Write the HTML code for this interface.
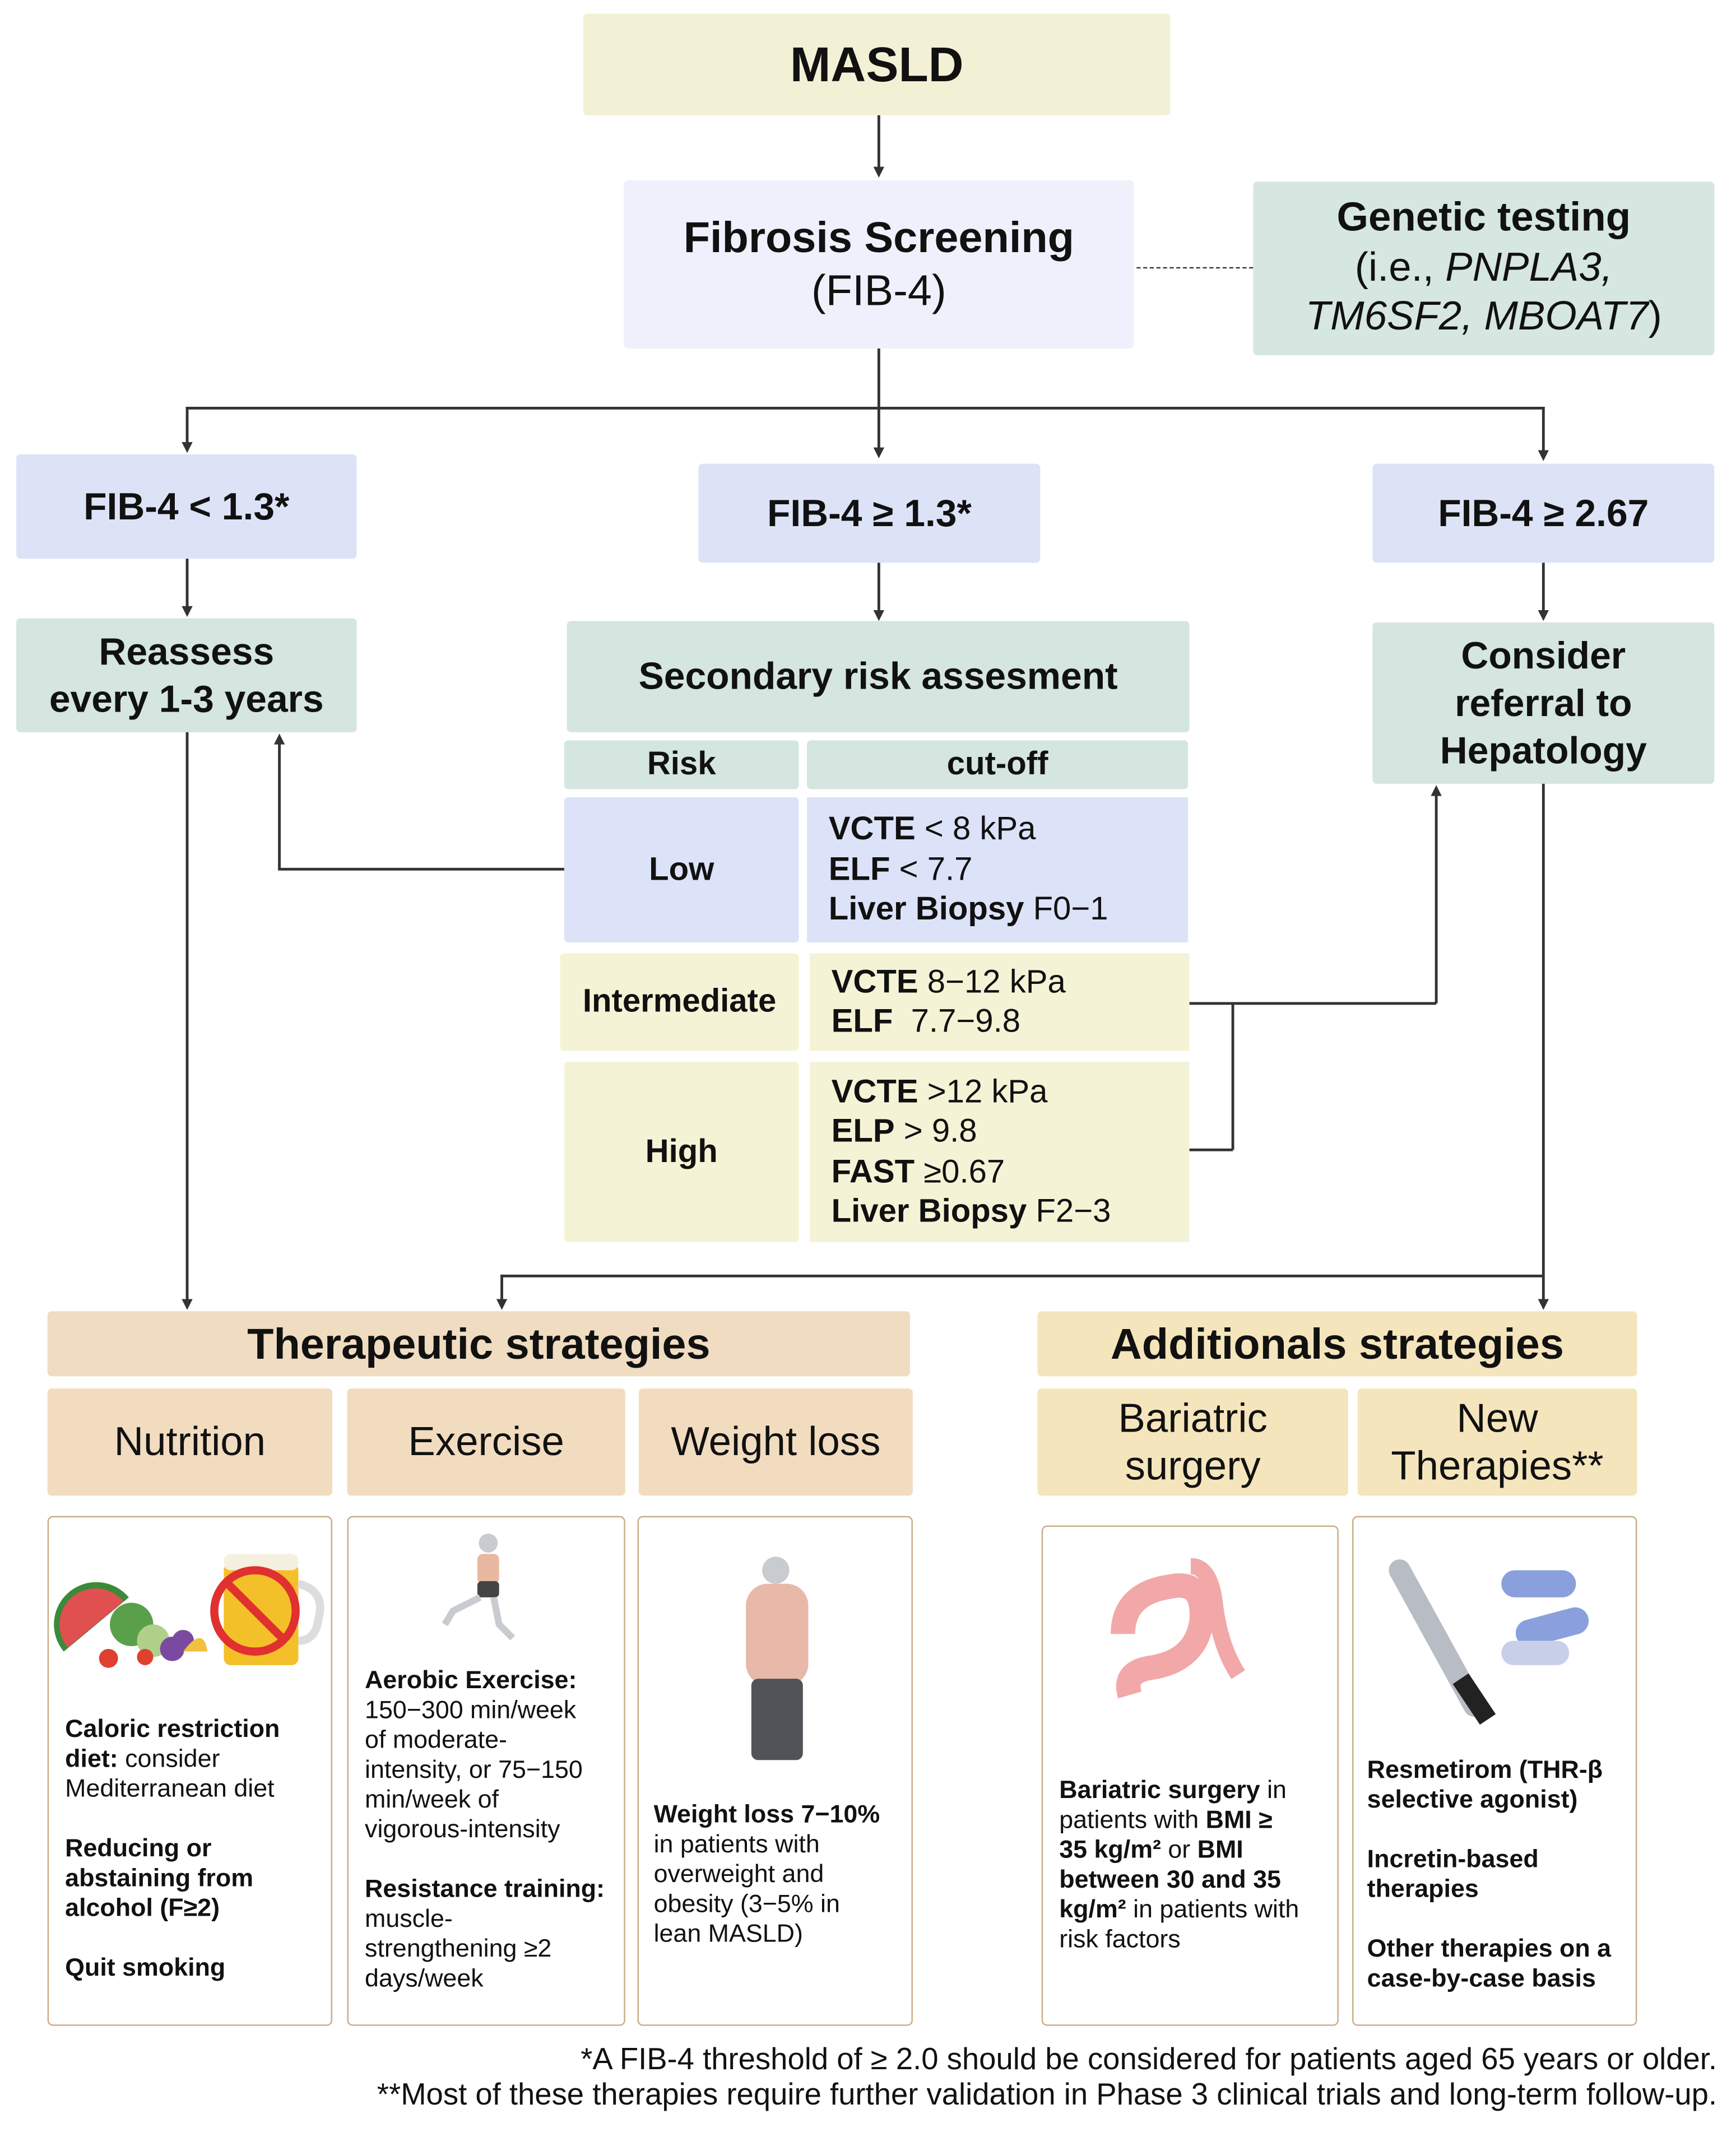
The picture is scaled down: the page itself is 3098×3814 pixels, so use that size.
<!DOCTYPE html>
<html><head><meta charset="utf-8"><style>
html,body{margin:0;padding:0;background:#fff;}
body{width:3098px;height:3814px;overflow:hidden;}
#c{position:absolute;left:0;top:0;width:1280px;height:1576px;transform:scale(2.4203,2.4201);transform-origin:0 0;font-family:"Liberation Sans","DejaVu Sans",sans-serif;color:#111;}
.b{position:absolute;display:flex;flex-direction:column;align-items:center;justify-content:center;text-align:center;box-sizing:border-box;border-radius:3px;}
.bold{font-weight:bold;}
.l{position:absolute;background:#333;}
.ar{position:absolute;width:0;height:0;border-left:4px solid transparent;border-right:4px solid transparent;border-top:8px solid #333;}
.aru{position:absolute;width:0;height:0;border-left:4px solid transparent;border-right:4px solid transparent;border-bottom:8px solid #333;}
.cut{position:absolute;box-sizing:border-box;padding-left:16px;font-size:24px;line-height:29.5px;display:flex;flex-direction:column;justify-content:center;}
.box{position:absolute;box-sizing:border-box;border:1.5px solid #c9ab84;border-radius:4px;background:#fff;}
.t{position:absolute;font-size:18.5px;line-height:22px;}
.foot{position:absolute;right:14px;font-size:22.5px;text-align:right;white-space:nowrap;}
</style></head><body><div id="c">

<div class="b bold" style="left:430px;top:10px;width:433px;height:75px;background:#f3f1d5;font-size:36px;">MASLD</div>
<div class="l" style="left:647px;top:85px;width:1.5px;height:40px;"></div><div class="ar" style="left:644px;top:123px;"></div>

<div class="b" style="left:460px;top:133px;width:376px;height:124px;background:#eef1fb;font-size:32px;line-height:39px;"><span class="bold">Fibrosis Screening</span><span>(FIB-4)</span></div>
<div style="position:absolute;left:838px;top:197px;width:86px;border-top:1.5px dashed #333;"></div>
<div class="b" style="left:924px;top:134px;width:340px;height:128px;background:#d6e6e0;font-size:30px;line-height:36.5px;"><span class="bold">Genetic testing</span><span>(i.e., <i>PNPLA3,</i></span><span><i>TM6SF2, MBOAT7</i>)</span></div>

<div class="l" style="left:647px;top:257px;width:1.5px;height:75px;"></div>
<div class="l" style="left:137px;top:300px;width:1002px;height:1.5px;"></div>
<div class="l" style="left:137px;top:300px;width:1.5px;height:28px;"></div><div class="ar" style="left:134px;top:326px;"></div>
<div class="ar" style="left:644px;top:330px;"></div>
<div class="l" style="left:1137px;top:300px;width:1.5px;height:32px;"></div><div class="ar" style="left:1134px;top:332px;"></div>

<div class="b bold" style="left:12px;top:335px;width:251px;height:77px;background:#dde3f7;font-size:28px;">FIB-4 &lt; 1.3*</div>
<div class="b bold" style="left:515px;top:342px;width:252px;height:73px;background:#dde3f7;font-size:28px;">FIB-4 ≥ 1.3*</div>
<div class="b bold" style="left:1012px;top:342px;width:252px;height:73px;background:#dde3f7;font-size:28px;">FIB-4 ≥ 2.67</div>

<div class="l" style="left:137px;top:412px;width:1.5px;height:36px;"></div><div class="ar" style="left:134px;top:447px;"></div>
<div class="l" style="left:647px;top:415px;width:1.5px;height:36px;"></div><div class="ar" style="left:644px;top:450px;"></div>
<div class="l" style="left:1137px;top:415px;width:1.5px;height:36px;"></div><div class="ar" style="left:1134px;top:450px;"></div>

<div class="b bold" style="left:12px;top:456px;width:251px;height:84px;background:#d5e5df;font-size:28px;line-height:35px;"><span>Reassess</span><span>every 1-3 years</span></div>
<div class="b bold" style="left:418px;top:458px;width:459px;height:82px;background:#d5e5df;font-size:28px;">Secondary risk assesment</div>
<div class="b bold" style="left:1012px;top:459px;width:252px;height:119px;background:#d5e5df;font-size:28px;line-height:35px;"><span>Consider</span><span>referral to</span><span>Hepatology</span></div>

<div class="b bold" style="left:416px;top:546px;width:173px;height:36px;background:#d5e5df;font-size:24px;">Risk</div>
<div class="b bold" style="left:595px;top:546px;width:281px;height:36px;background:#d5e5df;font-size:24px;">cut-off</div>

<div class="b bold" style="left:416px;top:588px;width:173px;height:107px;background:#dce3f8;font-size:24px;">Low</div>
<div class="cut" style="left:595px;top:588px;width:281px;height:107px;background:#dce3f8;"><span><b>VCTE</b> &lt; 8 kPa</span><span><b>ELF</b> &lt; 7.7</span><span><b>Liver Biopsy</b> F0−1</span></div>

<div class="b bold" style="left:413px;top:703px;width:176px;height:72px;background:#f5f3d6;font-size:24px;">Intermediate</div>
<div class="cut" style="left:597px;top:703px;width:280px;height:72px;background:#f5f3d6;"><span><b>VCTE</b> 8−12 kPa</span><span><b>ELF</b>&nbsp; 7.7−9.8</span></div>

<div class="b bold" style="left:416px;top:783px;width:173px;height:133px;background:#f5f3d6;font-size:24px;">High</div>
<div class="cut" style="left:597px;top:783px;width:280px;height:133px;background:#f5f3d6;"><span><b>VCTE</b> &gt;12 kPa</span><span><b>ELP</b> &gt; 9.8</span><span><b>FAST</b> ≥0.67</span><span><b>Liver Biopsy</b> F2−3</span></div>

<div class="l" style="left:205px;top:640px;width:211px;height:1.5px;"></div>
<div class="l" style="left:205px;top:548px;width:1.5px;height:93px;"></div><div class="aru" style="left:202px;top:541px;"></div>
<div class="l" style="left:877px;top:739px;width:182px;height:1.5px;"></div>
<div class="l" style="left:1058px;top:586px;width:1.5px;height:154px;"></div><div class="aru" style="left:1055px;top:579px;"></div>
<div class="l" style="left:877px;top:847px;width:32px;height:1.5px;"></div>
<div class="l" style="left:908px;top:739px;width:1.5px;height:109px;"></div>

<div class="l" style="left:137px;top:540px;width:1.5px;height:419px;"></div><div class="ar" style="left:134px;top:958px;"></div>
<div class="l" style="left:1137px;top:578px;width:1.5px;height:381px;"></div><div class="ar" style="left:1134px;top:958px;"></div>
<div class="l" style="left:369px;top:940px;width:769px;height:1.5px;"></div>
<div class="l" style="left:369px;top:940px;width:1.5px;height:19px;"></div><div class="ar" style="left:366px;top:958px;"></div>

<div class="b bold" style="left:35px;top:967px;width:636px;height:48px;background:#f0dcc0;font-size:32px;">Therapeutic strategies</div>
<div class="b bold" style="left:765px;top:967px;width:442px;height:48px;background:#f5e5bc;font-size:32px;">Additionals strategies</div>

<div class="b" style="left:35px;top:1024px;width:210px;height:79px;background:#f2dcc0;font-size:30px;">Nutrition</div>
<div class="b" style="left:256px;top:1024px;width:205px;height:79px;background:#f2dcc0;font-size:30px;">Exercise</div>
<div class="b" style="left:471px;top:1024px;width:202px;height:79px;background:#f2dcc0;font-size:30px;">Weight loss</div>
<div class="b" style="left:765px;top:1024px;width:229px;height:79px;background:#f5e5bc;font-size:30px;line-height:35px;"><span>Bariatric</span><span>surgery</span></div>
<div class="b" style="left:1001px;top:1024px;width:206px;height:79px;background:#f5e5bc;font-size:30px;line-height:35px;"><span>New</span><span>Therapies**</span></div>

<div class="box" style="left:35px;top:1118px;width:210px;height:376px;"></div>
<div class="box" style="left:256px;top:1118px;width:205px;height:376px;"></div>
<div class="box" style="left:470px;top:1118px;width:203px;height:376px;"></div>
<div class="box" style="left:768px;top:1125px;width:219px;height:369px;"></div>
<div class="box" style="left:997px;top:1118px;width:210px;height:376px;"></div>

<svg style="position:absolute;left:35px;top:1118px" width="210" height="120">
<path d="M12 100 A28 28 0 0 1 60 60 Z" fill="#3a8a3a"/><path d="M15 97 A24 24 0 0 1 56 63 Z" fill="#e05050"/>
<circle cx="62" cy="80" r="16" fill="#5aa04a"/><circle cx="78" cy="92" r="12" fill="#b0d08a"/>
<circle cx="92" cy="98" r="9" fill="#7a4aa0"/><circle cx="100" cy="92" r="8" fill="#7a4aa0"/>
<path d="M100 100 Q115 80 118 100" fill="#f0c040"/><circle cx="45" cy="105" r="7" fill="#e04030"/><circle cx="72" cy="104" r="6" fill="#e04030"/>
<rect x="130" y="35" width="55" height="75" rx="5" fill="#f4c02a"/><rect x="130" y="28" width="55" height="12" rx="5" fill="#f6f0e0"/>
<path d="M185 50 Q205 55 200 75 Q198 92 185 92" fill="none" stroke="#ddd" stroke-width="6"/>
<circle cx="153" cy="70" r="30" fill="none" stroke="#e03030" stroke-width="6"/><line x1="132" y1="49" x2="174" y2="91" stroke="#e03030" stroke-width="6"/>
</svg>
<svg style="position:absolute;left:256px;top:1118px" width="205" height="110">
<circle cx="104" cy="20" r="7" fill="#c8ccd0"/><rect x="96" y="28" width="16" height="22" rx="4" fill="#e8b8a0"/>
<rect x="96" y="48" width="16" height="12" rx="3" fill="#444"/><path d="M98 60 L78 70 L72 80" stroke="#c8ccd0" stroke-width="5" fill="none"/>
<path d="M108 60 L112 80 L122 90" stroke="#c8ccd0" stroke-width="5" fill="none"/>
</svg>
<svg style="position:absolute;left:470px;top:1118px" width="203" height="190">
<circle cx="102" cy="40" r="10" fill="#c8ccd0"/><rect x="80" y="50" width="46" height="75" rx="16" fill="#e8b8a8"/>
<rect x="84" y="120" width="38" height="60" rx="5" fill="#505458"/>
</svg>
<svg style="position:absolute;left:768px;top:1125px" width="219" height="140">
<path d="M60 80 Q60 50 95 45 Q120 40 118 70 Q114 100 80 105 Q60 108 65 125" fill="none" stroke="#f2a8a8" stroke-width="18"/>
<path d="M110 30 Q125 30 128 60 Q132 90 145 110" fill="none" stroke="#f2a8a8" stroke-width="12"/>
</svg>
<svg style="position:absolute;left:997px;top:1118px" width="210" height="160">
<path d="M35 40 L90 140" stroke="#b8bcc4" stroke-width="16" stroke-linecap="round"/><path d="M80 120 L100 150" stroke="#222" stroke-width="14"/>
<rect x="110" y="40" width="55" height="20" rx="10" fill="#8aa0dc"/><rect x="120" y="72" width="55" height="20" rx="10" fill="#8aa0dc" transform="rotate(-15 147 82)"/><rect x="110" y="92" width="50" height="18" rx="9" fill="#c8cfe8"/>
</svg>

<div class="t" style="left:48px;top:1264px;"><b>Caloric restriction<br>diet:</b> consider<br>Mediterranean diet<br><br><b>Reducing or<br>abstaining from<br>alcohol (F≥2)</b><br><br><b>Quit smoking</b></div>
<div class="t" style="left:269px;top:1228px;"><b>Aerobic Exercise:</b><br>150−300 min/week<br>of moderate-<br>intensity, or 75−150<br>min/week of<br>vigorous-intensity<br><br><b>Resistance training:</b><br>muscle-<br>strengthening ≥2<br>days/week</div>
<div class="t" style="left:482px;top:1327px;"><b>Weight loss 7−10%</b><br>in patients with<br>overweight and<br>obesity (3−5% in<br>lean MASLD)</div>
<div class="t" style="left:781px;top:1309px;"><b>Bariatric surgery</b> in<br>patients with <b>BMI ≥<br>35 kg/m²</b> or <b>BMI<br>between 30 and 35<br>kg/m²</b> in patients with<br>risk factors</div>
<div class="t" style="left:1008px;top:1294px;"><b>Resmetirom (THR-β<br>selective agonist)<br><br>Incretin-based<br>therapies<br><br>Other therapies on a<br>case-by-case basis</b></div>

<div class="foot" style="top:1506px;">*A FIB-4 threshold of ≥ 2.0 should be considered for patients aged 65 years or older.</div>
<div class="foot" style="top:1532px;">**Most of these therapies require further validation in Phase 3 clinical trials and long-term follow-up.</div>
</div></body></html>
